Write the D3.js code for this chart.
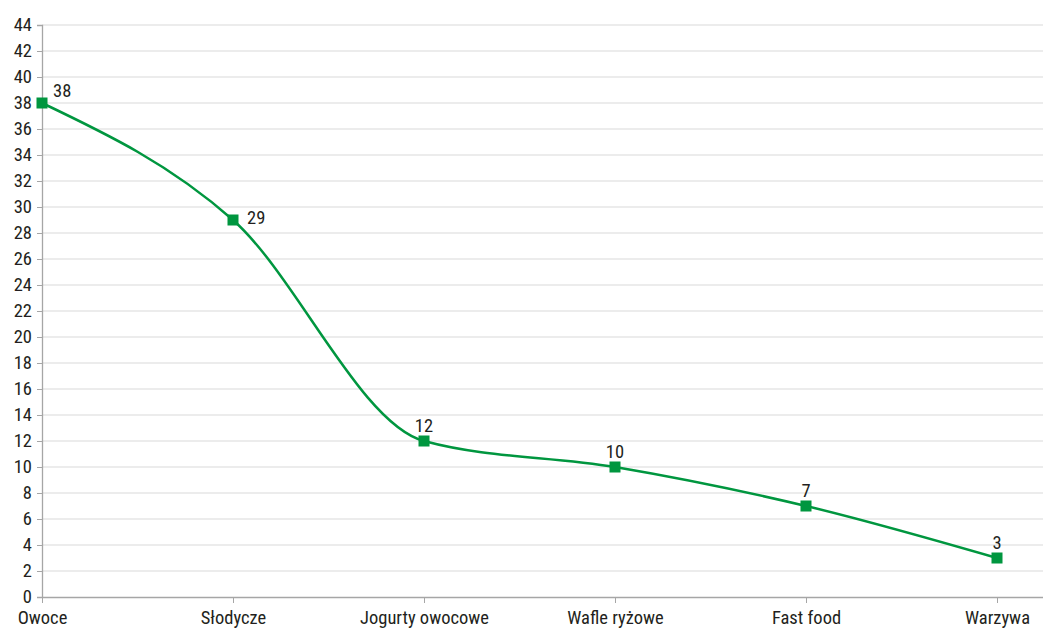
<!DOCTYPE html>
<html>
<head>
<meta charset="utf-8">
<script src="https://cdn.jsdelivr.net/npm/d3@7"></script>
<style>
  html, body { margin: 0; padding: 0; background: #fff; }
  svg { display: block; }
  text { font-family: "Liberation Sans Narrow", "Roboto Condensed", Roboto, sans-serif; fill: #231f20; }
</style>
</head>
<body>
<svg id="chart" width="1043" height="630"></svg>
<script>
// Categories and values
const categories = ["Owoce", "Słodycze", "Jogurty owocowe", "Wafle ryżowe", "Fast food", "Warzywa"];
const values = [38, 29, 12, 10, 7, 3];
const yTicks = d3.range(0, 45, 2);

const plotLeft = 42, plotRight = 1043, plotTop = 25, plotBottom = 597;

const svg = d3.select("#chart");

const x = d3.scalePoint().domain(categories).range([42, 997]);
const y = d3.scaleLinear().domain([0, 44]).range([plotBottom, plotTop]);

// Horizontal gridlines
svg.append("g")
  .selectAll("line")
  .data(yTicks.filter(d => d > 0))
  .join("line")
  .attr("x1", plotLeft).attr("x2", plotRight)
  .attr("y1", d => y(d)).attr("y2", d => y(d))
  .attr("stroke", "#d9d9d9").attr("stroke-width", 1.2);

// Y axis
const yAxis = svg.append("g")
  .attr("transform", `translate(${plotLeft},0)`)
  .call(d3.axisLeft(y).tickValues(yTicks).tickSize(5).tickPadding(5));
yAxis.select(".domain").attr("stroke", "#a6a6a6").attr("stroke-width", 1.3);
yAxis.selectAll(".tick line").attr("stroke", "#a6a6a6");
yAxis.selectAll("text").attr("font-size", 18.5).attr("font-family", null);

// X axis
const xAxis = svg.append("g")
  .attr("transform", `translate(0,${plotBottom})`)
  .call(d3.axisBottom(x).tickSize(6).tickPadding(8).tickSizeOuter(0));
xAxis.select(".domain").attr("stroke", "#a6a6a6").attr("stroke-width", 1.3)
  .attr("d", `M${plotLeft},0.5H${plotRight}`);
xAxis.selectAll(".tick line").attr("stroke", "#a6a6a6");
xAxis.selectAll("text").attr("font-size", 18.5).attr("font-family", null);

// Smoothed line
const pts = categories.map((c, i) => ({ c, v: values[i] }));
const line = d3.line()
  .x(d => x(d.c))
  .y(d => y(d.v))
  .curve(d3.curveMonotoneX);

svg.append("path")
  .datum(pts)
  .attr("d", line)
  .attr("fill", "none")
  .attr("stroke", "#00963f")
  .attr("stroke-width", 2.5);

// Square markers
const ms = 11;
svg.append("g")
  .selectAll("rect")
  .data(pts)
  .join("rect")
  .attr("x", d => x(d.c) - ms / 2)
  .attr("y", d => y(d.v) - ms / 2)
  .attr("width", ms).attr("height", ms)
  .attr("fill", "#00963f");

// Value labels: right of the steep start, above elsewhere
svg.append("g")
  .selectAll("text")
  .data(pts)
  .join("text")
  .attr("font-size", 18.5)
  .attr("x", (d, i) => i === 0 ? x(d.c) + 11 : i === 1 ? x(d.c) + 14 : x(d.c))
  .attr("y", (d, i) => i === 0 ? y(d.v) - 6 : i === 1 ? y(d.v) + 4 : y(d.v) - 9)
  .attr("text-anchor", (d, i) => i < 2 ? "start" : "middle")
  .text(d => d.v);
</script>
</body>
</html>
